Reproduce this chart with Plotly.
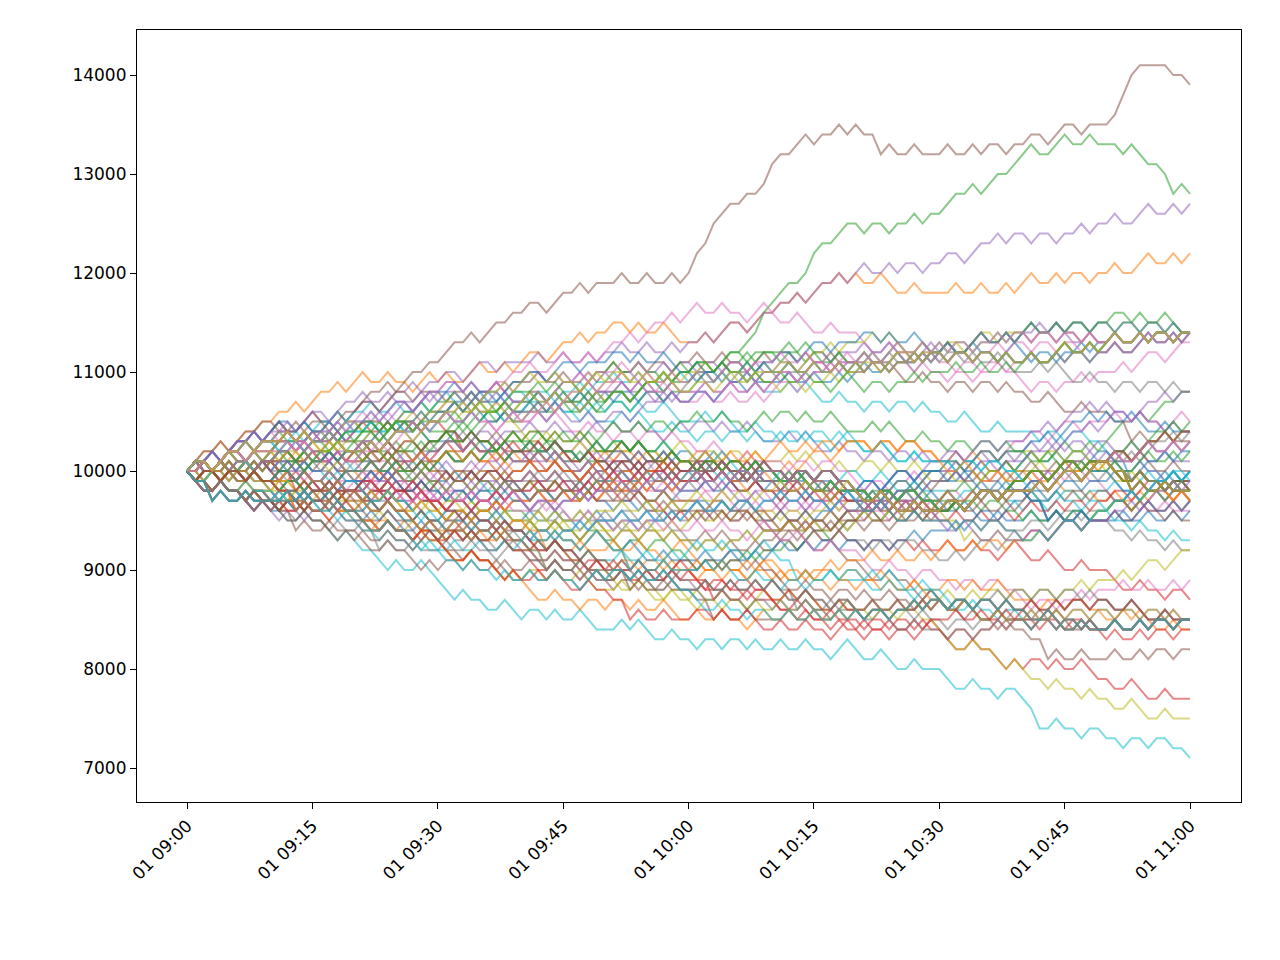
import plotly.graph_objects as go
import pandas as pd

# step blocks (10 minutes each): '+' = +100, '-' = -100, '0' = flat, 'U' = +200, 'D' = -200
BLOCKS = {
    "A": "+0+-++0+-+", "B": "+-0++-0+-+", "C": "++0+-++0+0", "D": "+0-++0+-+0",
    "E": "0+-0+-0+-+", "F": "+-0+-+0-+0", "G": "-0D+-0+-00", "H": "-0-+-0-+-0",
    "I": "--0+-0--+-", "J": "+0-+-0+--0", "K": "0+-+--0+-0", "L": "-+0-+0-+-0",
    "M": "+-0+-0-++-", "N": "-0+--0+-00", "O": "--0+-0-+0-", "P": "0-+0-+0-0-",
    "Q": "-+0-+0+-+0", "R": "0+-++0-++0", "S": "+0-++0-+00",
}

start_value = 10000
times = pd.date_range("2000-01-01 09:00", "2000-01-01 11:00", freq="1min")

brown_steps = ("+0+-++0+-+" "+-0++-0+-+" "++0+-++0+0" "++0+-++0+0" "+0-++0+-+0" "0+-0+-0+-+"
               "U+U++0+0+U" "+0++-+0+-+" "-0D+-0+-00" "+-0+-+0-+0" "+0-++0-+00" "+UU+000-0-")
cyan_steps = ("-0-+-0-+-0" "--0+-0--+-" "-0--+-0+--" "--+-0-0+--" "+0-+-0+--0" "0+-+--0+-0"
              "-+0-+0-+-0" "+-0+-0-++-" "-0+--0+-00" "--0+-0-+0-" "-D0+-0-+0-" "0-+0-+0-0-")
green_steps = ("+-0++-0+-+" "+0-++0+-+0" "-+0-+0-+-0" "0+-++0-++0" "+0-+-0+--0" "+0-++0-+00"
               "++0++0++U+" "++0+U+0++0" "-+0-+0+-+0" "++0+-++0++" "+-0++-0+-0" "0-+--0-D+-")

series_codes = [
    "AMJKLQNPSEFG", "CAMBDJRANEFB", None, "LGJNOKPHMIJN", "ABDSEERAFDQB",
    None, "HBMRJKOLQDPN", "MEFJKLQPNSBA", "JHNLGOMKPIHN", None,
    "IROLMQJFDKGE", "BNQMELJRPKHF", "KLMNOPQRSABC", "DEFGHIJKLMNO", "PQRSMMJKLEFN",
    "QPONMLKJIHGF", "FEDCBAMNOPQR", "GHMQELJKPRSA", "SRQPNMLKJFED", "MMJKQELFNPSB",
    "RJKOLQEPMNFA", "NOPJKLMQEFRS", "EHJQMRNKLPFD", "OQAMKLJNPEFS", "LKJMQEFNPSRB",
    "HGIJMQRSAEFK", "BDFJKLNPQRSM", "JKLMNPQEFSGH", "PNMJKLQEFGRS", "SAEFQMJKLNPO",
    "IJKLMNEFQRSD", "QEFMJKLNPRBG", "FQEMNJKLPSRH", "MNPQEFJKLRSO", "KJLQEFMNPSAI",
    "DRSQEFMJKLNG", "ENPQMJKFLRSH", "LMJQEFNKPRSB", "OJKLMEFQRSPN", "RQEFMJKLNPSG",
    "GQEFMJKLRSAN", "NJKQEFMLPRSD", "HQRSEFMJKLNB", "JQEFMKLNPRSO", "PQEFMJKLRSAH",
    "FJKLMNPQERSG", "MQEJKLFNPRSI", "EQMJKLFNPRSD", "QJKLMEFNPRSH", "LQEFMJKNPRSG",
    "BJKLMNPQEFSO", "SJKLMNPQEFRI", "KQEFMJLNPRSA", "OQEFMJKLNPSB", "IQEFMJKLRSAD",
    "CNOPJKLMQEFH", "AHIJKLMNOPQE", "GRSABEFQMJKL", "NPOIJKLMEFQR", "DQEFJKLMNPOH",
    "MJKLQEFPSNGB", "RKLJMQEFPNSI", "EFQMJKLPNRSO", "JKLQEFMPNSRG", "HJKLQEFMPNSA",
    "QEFJKLMPNSRD", "LJKMQEFPNSRB", "FJKLQEMPNSRH", "PJKLQEFMNSRG", "OJKLQEFMNPRA",
    "AJRKDLSEBMQF", "HEIQGMOFNJPK", "RMAKESDLBQFJ", "IMHKOEGNLQPF", "DEAJRQLSMBKF",
    "GEHJIQLOMNKF", "SKAMRJEDLQBF", "OKHMIJEGLQNF", "BQRJAEMDKSLF", "NQIJHEMGKOLF",
    "EARKMDQSJLBF", "EHIKMGQOJLNF", "QDJARMSKELFB", "QGJHIMOKELFN", "MSRAJKDEQBLF",
    "MOIHJKGEQNLF", "FARJDKSMEQLB", "FHIJGKOMEQLN", "JRAEMDKQSBFL", "JIHEMGKQONFL",
    "KDARSJMEQBFL", "KGHIOJMEQNFL", "LASRKDJMQEBF", "LHOIKGJMQENF", "ARMJKDESQLFB",
    "HIMJKGEOQLFN", "RJDMAKESBQLF", "IJGMHKEONQLF", "DKRAMJSEQLBF", "GKIHMJOEQLNF",
]


def decode(steps):
    vals = [start_value]
    for ch in steps:
        d = {"+": 100, "-": -100, "0": 0, "U": 200, "D": -200}[ch]
        vals.append(vals[-1] + d)
    return vals


series = []
for i, code in enumerate(series_codes):
    if i == 2:
        steps = green_steps
    elif i == 5:
        steps = brown_steps
    elif i == 9:
        steps = cyan_steps
    else:
        steps = "".join(BLOCKS[c] for c in code)
    series.append(decode(steps[:120]))

TAB10 = ["#1f77b4", "#ff7f0e", "#2ca02c", "#d62728", "#9467bd",
         "#8c564b", "#e377c2", "#7f7f7f", "#bcbd22", "#17becf"]

fig = go.Figure()
for i in range(len(series)):
    fig.add_trace(go.Scatter(x=times, y=series[i], mode="lines",
                             line=dict(color=TAB10[i % 10], width=2), opacity=0.55,
                             showlegend=False, hoverinfo="skip"))

tick_times = pd.date_range("2000-01-01 09:00", "2000-01-01 11:00", freq="15min")
y_ticks = list(range(7000, 14001, 1000))
fig.update_layout(
    width=1280, height=960, plot_bgcolor="white", paper_bgcolor="white",
    margin=dict(l=129, r=47, t=22, b=166),
    font=dict(family="DejaVu Sans", size=17, color="black"),
)
fig.update_xaxes(range=[pd.Timestamp("2000-01-01 08:54"), pd.Timestamp("2000-01-01 11:06:06")],
                 tickvals=list(tick_times), ticktext=[t.strftime("%d %H:%M") for t in tick_times],
                 tickangle=-45, showgrid=False, showline=True, linecolor="black", linewidth=1.2,
                 mirror=True, ticks="outside", ticklen=6, tickcolor="black", zeroline=False,
                 automargin=False)
fig.update_yaxes(range=[6657, 14455], tickvals=y_ticks, ticktext=[str(v) for v in y_ticks],
                 showgrid=False, showline=True, linecolor="black", linewidth=1.2,
                 mirror=True, ticks="outside", ticklen=6, tickcolor="black", zeroline=False,
                 automargin=False)
fig.write_html("out.html")
